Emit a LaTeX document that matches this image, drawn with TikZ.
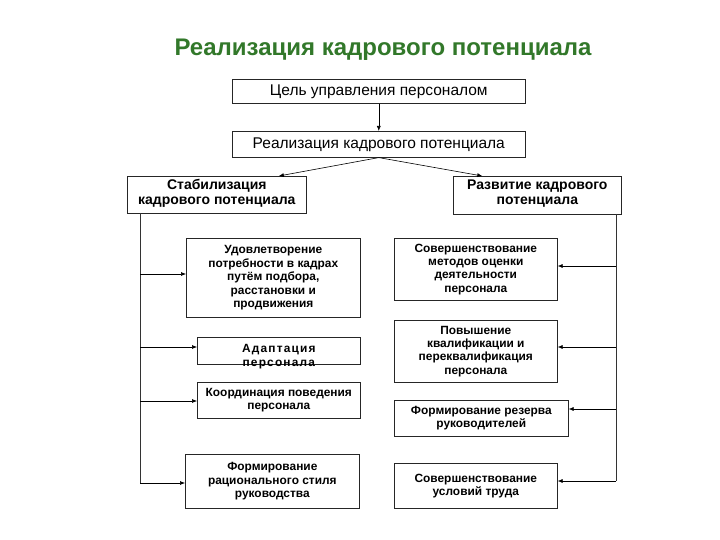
\documentclass[tikz,border=0pt]{standalone}
\usepackage{fontspec}
\setmainfont{Liberation Sans}
\usetikzlibrary{arrows.meta}
\definecolor{titlegreen}{RGB}{50,120,42}
\tikzset{
  box/.style={draw=black!85, line width=0.6pt, inner sep=0pt, anchor=north west, align=center},
  bigtxt/.style={font=\fontsize{15.5}{18}\selectfont},
  midtxt/.style={font=\bfseries\fontsize{14}{14.5}\selectfont},
  smalltxt/.style={font=\bfseries\fontsize{11.9}{13.4}\selectfont},
  arr/.style={draw=black, line width=0.6pt, -{Latex[length=5pt,width=4pt]}},
  trunk/.style={draw=black!80, line width=0.6pt}
}
\begin{document}
\begin{tikzpicture}[x=1pt,y=-1pt]
\useasboundingbox (0,0) rectangle (720,540);
\node[font=\bfseries\fontsize{24}{27}\selectfont, text=titlegreen] (title) at (383,50) {Реализация кадрового потенциала};

\node[box, bigtxt, minimum width=293pt, minimum height=24pt] (b1) at (232,79) {Цель управления персоналом};
\node[box, bigtxt, minimum width=293pt, minimum height=26pt] (b2) at (232,131) {Реализация кадрового потенциала};
\node[box, midtxt, minimum width=179pt, minimum height=37pt, text depth=6pt] (b3) at (127,176) {Стабилизация\\кадрового потенциала};
\node[box, midtxt, minimum width=168pt, minimum height=38pt, text depth=6pt] (b4) at (453,176) {Развитие кадрового\\потенциала};

\draw[arr] (b1.south) -- (b2.north);
\draw[arr] (b2.south) -- ([xshift=62pt]b3.north);
\draw[arr] (b2.south) -- ([xshift=-55pt]b4.north);

% left column
\node[box, smalltxt, minimum width=174pt, minimum height=79pt] (l1) at (186,238) {Удовлетворение\\потребности в кадрах\\путём подбора,\\расстановки и\\продвижения};
\node[box, minimum width=163pt, minimum height=27pt] (l2) at (197,337) {};
\node[align=center, font=\bfseries\fontsize{11.9}{14}\selectfont\addfontfeature{LetterSpace=10}] (l2t) at ([yshift=-6pt]l2.center) {Адаптация\\персонала};
\node[box, smalltxt, minimum width=163pt, minimum height=36pt] (l3) at (197,382) {Координация поведения\\персонала};
\node[box, smalltxt, minimum width=174pt, minimum height=54pt] (l4) at (185,454) {Формирование\\рационального стиля\\руководства};

\coordinate (lt0) at (140,213);
\coordinate (lt1) at (140,274);
\coordinate (lt2) at (140,347);
\coordinate (lt3) at (140,401);
\coordinate (lt4) at (140,483);
\draw[trunk] (lt0) -- (lt4);
\draw[arr] (lt1) -- (l1.west |- lt1);
\draw[arr] (lt2) -- (l2.west |- lt2);
\draw[arr] (lt3) -- (l3.west |- lt3);
\draw[arr] (lt4) -- (l4.west |- lt4);

% right column
\node[box, smalltxt, minimum width=163pt, minimum height=62pt] (r1) at (394,238) {Совершенствование\\методов оценки\\деятельности\\персонала};
\node[box, smalltxt, minimum width=163pt, minimum height=62pt] (r2) at (394,320) {Повышение\\квалификации и\\переквалификация\\персонала};
\node[box, smalltxt, minimum width=174pt, minimum height=36pt] (r3) at (394,400) {Формирование резерва\\руководителей};
\node[box, smalltxt, minimum width=163pt, minimum height=45pt] (r4) at (394,463) {Совершенствование\\условий труда};

\coordinate (rt0) at (616,214);
\coordinate (rt1) at (616,266);
\coordinate (rt2) at (616,347);
\coordinate (rt3) at (616,409);
\coordinate (rt4) at (616,481);
\draw[trunk] (rt0) -- (rt4);
\draw[arr] (rt1) -- (r1.east |- rt1);
\draw[arr] (rt2) -- (r2.east |- rt2);
\draw[arr] (rt3) -- (r3.east |- rt3);
\draw[arr] (rt4) -- (r4.east |- rt4);
\end{tikzpicture}
\end{document}
